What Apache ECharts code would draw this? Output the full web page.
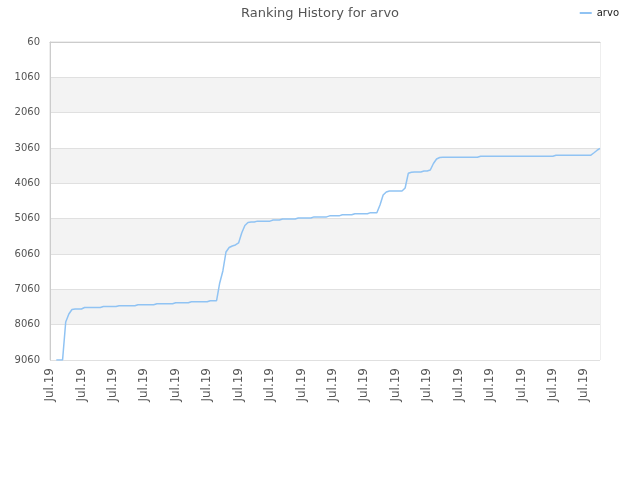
<!DOCTYPE html>
<html>
<head>
<meta charset="utf-8">
<script src="https://cdn.jsdelivr.net/npm/echarts@6/dist/echarts.min.js"></script>
<style>html,body{margin:0;padding:0;background:#fff}#c{width:640px;height:480px}</style>
</head>
<body>
<div id="c"></div>
<script>
// Rank values (null = no data yet)
const ranks = [
  null, null, 9060, 9060, 9060, 7984, 7758, 7630, 7616, 7616,
  7616, 7573, 7573, 7573, 7573, 7573, 7573, 7545, 7545, 7545,
  7545, 7545, 7523, 7523, 7523, 7523, 7523, 7523, 7494, 7494,
  7494, 7494, 7494, 7494, 7466, 7466, 7466, 7466, 7466, 7466,
  7438, 7438, 7438, 7438, 7438, 7410, 7410, 7410, 7410, 7410,
  7410, 7381, 7381, 7381, 6880, 6541, 6003, 5876, 5833, 5805,
  5748, 5465, 5253, 5168, 5154, 5154, 5130, 5130, 5130, 5130,
  5130, 5100, 5100, 5100, 5070, 5070, 5070, 5070, 5070, 5040,
  5040, 5040, 5040, 5040, 5010, 5010, 5010, 5010, 5010, 4980,
  4980, 4980, 4980, 4950, 4950, 4950, 4950, 4920, 4920, 4920,
  4920, 4920, 4890, 4890, 4890, 4673, 4390, 4305, 4277, 4277,
  4277, 4277, 4277, 4192, 3776, 3748, 3739, 3739, 3739, 3711,
  3711, 3682, 3498, 3371, 3329, 3323, 3323, 3323, 3323, 3323,
  3323, 3323, 3323, 3323, 3323, 3323, 3323, 3295, 3295, 3295,
  3295, 3295, 3295, 3295, 3295, 3295, 3295, 3295, 3295, 3295,
  3295, 3295, 3295, 3295, 3295, 3295, 3295, 3295, 3295, 3295,
  3295, 3266, 3266, 3266, 3266, 3266, 3266, 3266, 3266, 3266,
  3266, 3266, 3266, 3201, 3130, 3070
];
const categories = ranks.map(() => 'Jul.19');
const seriesName = 'arvo';
const titleText = 'Ranking History for arvo';
const yStart = 60;      // first tick label
const yStep = 1000;     // tick step
const yEnd = 9060;      // last tick label

const chart = echarts.init(document.getElementById('c'), null, {renderer: 'canvas'});
const FONT = 'DejaVu Sans';
chart.setOption({
  animation: false,
  title: {
    text: titleText, left: 'center', top: 2,
    textStyle: {fontFamily: FONT, fontSize: 13, fontWeight: 'normal', color: '#555'}
  },
  legend: {
    data: [seriesName], right: 16, top: 3,
    icon: 'rect', itemWidth: 12, itemHeight: 2, itemGap: 6,
    textStyle: {fontFamily: FONT, fontSize: 10, color: '#222'}
  },
  grid: {left: 50, right: 40, top: 42, bottom: 120, show: true, borderColor: '#ddd', borderWidth: 1},
  xAxis: {
    type: 'category', data: categories, boundaryGap: false,
    axisLine: {lineStyle: {color: '#ccc'}},
    axisTick: {show: false},
    axisLabel: {interval: 9, rotate: 90, margin: 8, fontFamily: FONT, fontSize: 12, color: '#555'},
    splitLine: {show: false}
  },
  yAxis: {
    type: 'value', inverse: true, min: 0, max: yEnd - yStart, interval: yStep,
    axisLine: {show: true, lineStyle: {color: '#ccc'}},
    axisTick: {show: false},
    axisLabel: {fontFamily: FONT, fontSize: 10, color: '#555', margin: 10,
      formatter: v => String(v + yStart)},
    splitLine: {lineStyle: {color: '#e0e0e0'}},
    splitArea: {show: true, areaStyle: {color: ['#ffffff', '#f3f3f3']}}
  },
  series: [{
    name: seriesName, type: 'line', showSymbol: false, symbol: 'none',
    data: ranks.map(r => r === null ? null : r - yStart),
    lineStyle: {color: '#90c3f3', width: 1.5},
    itemStyle: {color: '#90c3f3'}
  }]
});
</script>
</body>
</html>
